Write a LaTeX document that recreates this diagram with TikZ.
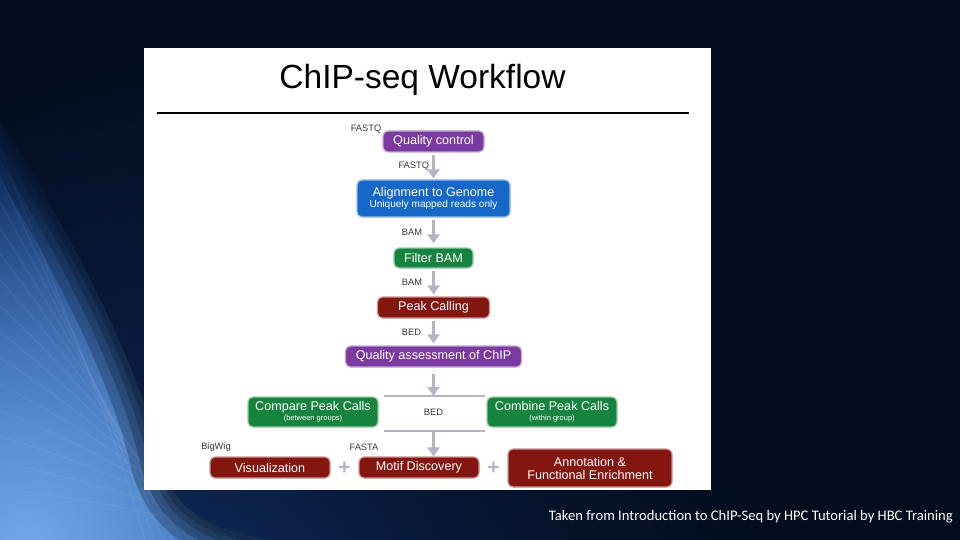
\documentclass[tikz,border=0pt]{standalone}
\usepackage{fontspec}
\setmainfont{Liberation Sans}
\newfontfamily\capfont{Carlito}
\usetikzlibrary{arrows.meta,shadings,fadings}
\tikzfading[name=softfade, inner color=transparent!0, outer color=transparent!100]
\definecolor{bgnavy}{RGB}{3,13,30}
\definecolor{swooshblue}{RGB}{45,105,200}
\definecolor{lightblue}{RGB}{125,180,238}
\definecolor{midblue}{RGB}{30,75,160}
\definecolor{qpurple}{RGB}{123,58,160}
\definecolor{qblue}{RGB}{22,104,200}
\definecolor{qgreen}{RGB}{22,132,62}
\definecolor{qred}{RGB}{132,22,16}
\definecolor{arrowgrey}{RGB}{180,181,196}
\definecolor{labgrey}{RGB}{55,55,55}
\tikzset{
  stepbox/.style={rounded corners=5pt, inner sep=0pt, text=white, align=center,
    font=\fontsize{12.6}{13}\selectfont, line width=1.2pt},
  purplebox/.style={stepbox, fill=qpurple, draw=qpurple!45},
  bluebox/.style={stepbox, fill=qblue, draw=qblue!45},
  greenbox/.style={stepbox, fill=qgreen, draw=qgreen!45},
  redbox/.style={stepbox, fill=qred, draw=qred!45},
  flow/.style={draw=arrowgrey, line width=3pt, -{Triangle[width=12pt,length=9pt]}},
  sepline/.style={draw=arrowgrey, line width=1.5pt},
  lab/.style={text=labgrey, font=\fontsize{9.3}{10}\selectfont, inner sep=0pt},
  plus/.style={text=arrowgrey, font=\bfseries\fontsize{21}{21}\selectfont, inner sep=0pt}
}
\begin{document}
\begin{tikzpicture}[x=1pt,y=-1pt]
\useasboundingbox (0,0) rectangle (960,540);
% background
\fill[bgnavy] (0,0) rectangle (960,540);
\begin{scope}
  \clip (0,0) rectangle (960,540);
  \fill[midblue, path fading=softfade, opacity=0.7] (230,600) circle[radius=560];
  \fill[bgnavy, path fading=softfade, opacity=0.9] (700,300) circle[radius=900];
\end{scope}
\begin{scope}
  \clip (0,120) .. controls (80,250) and (140,370) .. (160,460)
        .. controls (172,505) and (200,530) .. (270,540) -- (0,540) -- cycle;
  \fill[swooshblue, path fading=softfade] (0,560) circle[radius=600];
  \fill[lightblue, path fading=softfade, opacity=0.85] (30,545) circle[radius=360];
  \foreach \k in {0,...,13}{
    \draw[white, opacity=0.05, line width=1.5pt]
      (0,{150+26*\k}) .. controls ({60+6*\k},{300+16*\k}) and ({120+6*\k},{440+6*\k}) .. ({150+10*\k},560);
  }
  \foreach \w in {60,40,24,12}{
    \draw[bgnavy, opacity=0.25, line width=\w pt]
      (0,120) .. controls (80,250) and (140,370) .. (160,460)
      .. controls (172,505) and (200,530) .. (270,540);
  }
\end{scope}
% white panel
\fill[white] (144,48) rectangle (711,490);
\node[font=\fontsize{33.5}{34}\selectfont, inner sep=0pt] (title) at (422.5,80) {ChIP-seq Workflow};
\coordinate (rulel) at (157,113);
\coordinate (ruler) at (689,113);
\draw[line width=2pt] (rulel) -- (ruler);

% nodes
\node[purplebox, minimum width=101pt, minimum height=21pt] (qc) at (433.5,141.5) {Quality control};
\node[lab] (fq0) at (366,129) {FASTQ};
\node[bluebox, minimum width=153pt, minimum height=37pt] (align) at (433.5,198.5)
  {Alignment to Genome\\[-1.5pt]{\fontsize{10.1}{10}\selectfont Uniquely mapped reads only}};
\node[greenbox, minimum width=79pt, minimum height=20pt] (filt) at (433.5,258) {Filter BAM};
\node[redbox, minimum width=112pt, minimum height=21pt] (peak) at (433.5,307.5) {Peak Calling};
\node[purplebox, minimum width=176pt, minimum height=21pt] (qa) at (433.5,356.5) {Quality assessment of ChIP};

\node[greenbox, minimum width=130pt, minimum height=30pt] (cmp) at (313,412)
  {Compare Peak Calls\\[-3pt]{\fontsize{7.5}{8}\selectfont (between groups)}};
\node[greenbox, minimum width=130pt, minimum height=30pt] (cmb) at (552,412)
  {Combine Peak Calls\\[-3pt]{\fontsize{7.5}{8}\selectfont (within group)}};
\node[lab] (bed2) at (433.5,412) {BED};

\node[redbox, minimum width=120pt, minimum height=21pt] (vis) at (270,467.5) {Visualization};
\node[redbox, minimum width=120pt, minimum height=21pt] (motif) at (419,467.5) {Motif Discovery};
\node[redbox, minimum width=164pt, minimum height=38pt] (annot) at (590,468)
  {Annotation \&\\Functional Enrichment};
\node[plus] (p1) at (344.5,468) {+};
\node[plus] (p2) at (493.5,468) {+};
\node[lab] (bw) at (216,447) {BigWig};
\node[lab] (fa) at (364,447) {FASTA};

% connectors
\draw[flow, shorten <=2pt, shorten >=1pt] (qc) -- (align) node[lab, midway, left=3pt] (fq1) {FASTQ};
\draw[flow, shorten <=2pt, shorten >=4pt] (align) -- (filt) node[lab, midway, left=10pt] (bam1) {BAM};
\draw[flow, shorten <=2pt, shorten >=2pt] (filt) -- (peak) node[lab, midway, left=10pt] (bam2) {BAM};
\draw[flow, shorten <=2pt, shorten >=2pt] (peak) -- (qa) node[lab, midway, left=11pt] (bed1) {BED};

\coordinate (l1a) at (384,396);
\coordinate (l1b) at (485,396);
\coordinate (l2a) at (384,431);
\coordinate (l2b) at (485,431);
\coordinate (l1m) at (433.5,396);
\coordinate (l2m) at (433.5,431);
\draw[sepline] (l1a) -- (l1b);
\draw[sepline] (l2a) -- (l2b);
\draw[flow, shorten <=6pt, shorten >=0pt] (qa.south) -- (l1m);
\draw[flow, shorten <=1pt, shorten >=0pt] (l2m) -- (motif.north -| l2m);

% caption
\node[text=white, font=\capfont\fontsize{14.6}{16}\selectfont, anchor=east, inner sep=0pt] (cap) at (953,517)
  {Taken from Introduction to ChIP-Seq by HPC Tutorial by HBC Training};
\end{tikzpicture}
\end{document}
